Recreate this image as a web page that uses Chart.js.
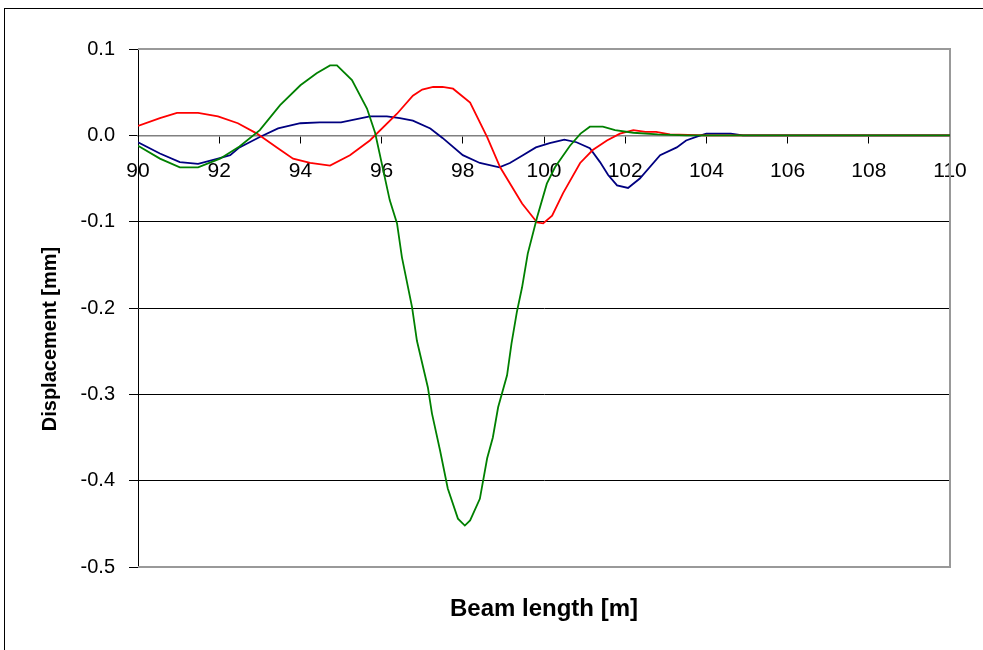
<!DOCTYPE html>
<html>
<head>
<meta charset="utf-8">
<script src="https://cdn.jsdelivr.net/npm/chart.js@4/dist/chart.umd.min.js"></script>
<style>
  html, body { margin: 0; padding: 0; background: #fff; overflow: hidden; }
  #frame { position: absolute; left: 4px; top: 8px; width: 1000px; height: 700px; border: 1px solid #000; }
  #c { position: absolute; left: 0; top: 0; }
</style>
</head>
<body>
<div id="frame"></div>
<canvas id="c" width="983" height="650"></canvas>
<script>
// Beam displacement along the beam, three load positions
const blueX = [90, 90.54, 91.03, 91.48, 91.97, 92.27, 92.5, 93.0, 93.45, 94.0, 94.48, 95.0, 95.71, 96.13, 96.45, 96.77, 97.2, 97.5, 98.0, 98.42, 98.9, 99.16, 99.48, 99.8, 100.14, 100.5, 100.8, 101.13, 101.38, 101.58, 101.8, 102.07, 102.36, 102.86, 103.27, 103.5, 103.8, 104.0, 104.6, 104.9, 110];
const blueY = [-0.008, -0.021, -0.031, -0.033, -0.027, -0.023, -0.014, -0.002, 0.008, 0.014, 0.015, 0.015, 0.022, 0.022, 0.020, 0.017, 0.008, -0.003, -0.023, -0.032, -0.037, -0.032, -0.023, -0.014, -0.009, -0.005, -0.008, -0.015, -0.031, -0.046, -0.058, -0.061, -0.050, -0.023, -0.014, -0.006, -0.001, 0.002, 0.002, 0, 0];

const redX = [90, 90.54, 90.96, 91.48, 91.97, 92.46, 92.93, 93.42, 93.82, 94.24, 94.73, 95.22, 95.71, 96.38, 96.77, 97.0, 97.27, 97.5, 97.76, 98.18, 98.6, 98.92, 99.46, 99.83, 99.98, 100.2, 100.47, 100.89, 101.2, 101.55, 101.87, 102.2, 102.5, 102.76, 103.1, 104.0, 110];
const redY = [0.011, 0.020, 0.026, 0.026, 0.022, 0.014, 0.002, -0.014, -0.027, -0.032, -0.035, -0.023, -0.006, 0.025, 0.046, 0.053, 0.056, 0.056, 0.054, 0.038, -0.002, -0.037, -0.079, -0.101, -0.102, -0.093, -0.067, -0.032, -0.017, -0.006, 0.002, 0.006, 0.004, 0.004, 0.001, 0, 0];

const greenX = [90, 90.54, 91.03, 91.48, 92.02, 92.5, 93.0, 93.5, 94.0, 94.4, 94.73, 94.9, 95.27, 95.64, 95.84, 96.2, 96.38, 96.5, 96.75, 96.87, 97.14, 97.24, 97.44, 97.63, 97.88, 98.05, 98.18, 98.42, 98.6, 98.74, 98.87, 99.09, 99.2, 99.33, 99.46, 99.6, 99.83, 100.07, 100.27, 100.64, 100.9, 101.13, 101.45, 101.75, 102.2, 102.8, 103.5, 110];
const greenY = [-0.012, -0.027, -0.037, -0.037, -0.027, -0.013, 0.006, 0.035, 0.058, 0.072, 0.081, 0.081, 0.064, 0.031, 0.003, -0.075, -0.102, -0.141, -0.199, -0.238, -0.292, -0.322, -0.365, -0.409, -0.444, -0.452, -0.446, -0.421, -0.374, -0.350, -0.315, -0.278, -0.241, -0.205, -0.176, -0.137, -0.095, -0.056, -0.037, -0.012, 0.002, 0.010, 0.010, 0.006, 0.003, 0.001, 0, 0];

const xMin = 90, xMax = 110, xStep = 2;
const yMin = -0.5, yMax = 0.1, yStep = 0.1;
const xTitle = 'Beam length [m]';
const yTitle = 'Displacement [mm]';

const pts = (xs, ys) => xs.map((x, i) => ({ x: x, y: ys[i] }));
const FONT = "'Liberation Sans', Arial, sans-serif";

// gray frame on the top, right and bottom of the plot area
const plotFrame = {
  id: 'plotFrame',
  beforeDatasetsDraw(chart) {
    const { ctx, chartArea: a } = chart;
    ctx.save();
    ctx.strokeStyle = '#999';
    ctx.lineWidth = 2;
    ctx.beginPath();
    ctx.moveTo(a.left, a.top);
    ctx.lineTo(a.right, a.top);
    ctx.lineTo(a.right, a.bottom);
    ctx.lineTo(a.left, a.bottom);
    ctx.stroke();
    ctx.restore();
  }
};

// vertical axis title, centred on the whole chart height
const yAxisTitle = {
  id: 'yAxisTitle',
  afterDraw(chart) {
    const { ctx } = chart;
    ctx.save();
    ctx.translate(50, 339);
    ctx.rotate(-Math.PI / 2);
    ctx.font = 'bold 20px ' + FONT;
    ctx.fillStyle = '#000';
    ctx.textAlign = 'center';
    ctx.textBaseline = 'middle';
    ctx.fillText(yTitle, 0, 0);
    ctx.restore();
  }
};

const near = (v, t) => Math.abs(v - t) < 1e-6;

new Chart(document.getElementById('c'), {
  type: 'line',
  data: {
    datasets: [
      { data: pts(greenX, greenY), borderColor: '#008000' },
      { data: pts(redX, redY), borderColor: '#ff0000' },
      { data: pts(blueX, blueY), borderColor: '#000080' }
    ]
  },
  options: {
    responsive: false,
    devicePixelRatio: 1,
    animation: false,
    elements: {
      point: { radius: 0, hoverRadius: 0 },
      line: { borderWidth: 1.8, tension: 0, fill: false }
    },
    layout: { padding: { top: 49, right: 33, bottom: 0, left: 0 } },
    plugins: { legend: { display: false }, tooltip: { enabled: false } },
    scales: {
      x: {
        type: 'linear',
        position: { y: 0 },
        min: xMin, max: xMax,
        afterFit(s) { s.height = 0; },
        ticks: {
          stepSize: xStep,
          padding: 16,
          maxRotation: 0,
          color: '#000',
          font: { family: FONT, size: 21 },
          callback: v => String(v)
        },
        grid: { display: true, drawOnChartArea: false, drawTicks: true, tickLength: 7, tickColor: '#000', tickWidth: 1 },
        border: { display: true, color: '#808080', width: 1.5 }
      },
      xb: {
        type: 'linear',
        position: 'bottom',
        min: xMin, max: xMax,
        afterFit(s) { s.height = 83; },
        ticks: { display: false },
        grid: { display: false },
        border: { display: false },
        title: {
          display: true,
          text: xTitle,
          color: '#000',
          font: { family: FONT, size: 24, weight: 'bold' },
          padding: { top: 0, bottom: 26 }
        }
      },
      y: {
        type: 'linear',
        position: 'left',
        min: yMin, max: yMax,
        afterFit(s) { s.width = 138; },
        ticks: {
          stepSize: yStep,
          padding: 14,
          color: '#000',
          font: { family: FONT, size: 20 },
          callback: v => (Math.abs(v) < 1e-9 ? 0 : Number(v)).toFixed(1)
        },
        grid: {
          drawTicks: true,
          tickLength: 9,
          tickColor: '#000',
          lineWidth: 1,
          color: ctx => {
            const v = ctx.tick ? ctx.tick.value : 0;
            if (near(v, yMax) || near(v, yMin) || near(v, 0)) return 'rgba(0,0,0,0)';
            return '#000';
          }
        },
        border: { display: true, color: '#000', width: 1 }
      }
    }
  },
  plugins: [plotFrame, yAxisTitle]
});
</script>
</body>
</html>
